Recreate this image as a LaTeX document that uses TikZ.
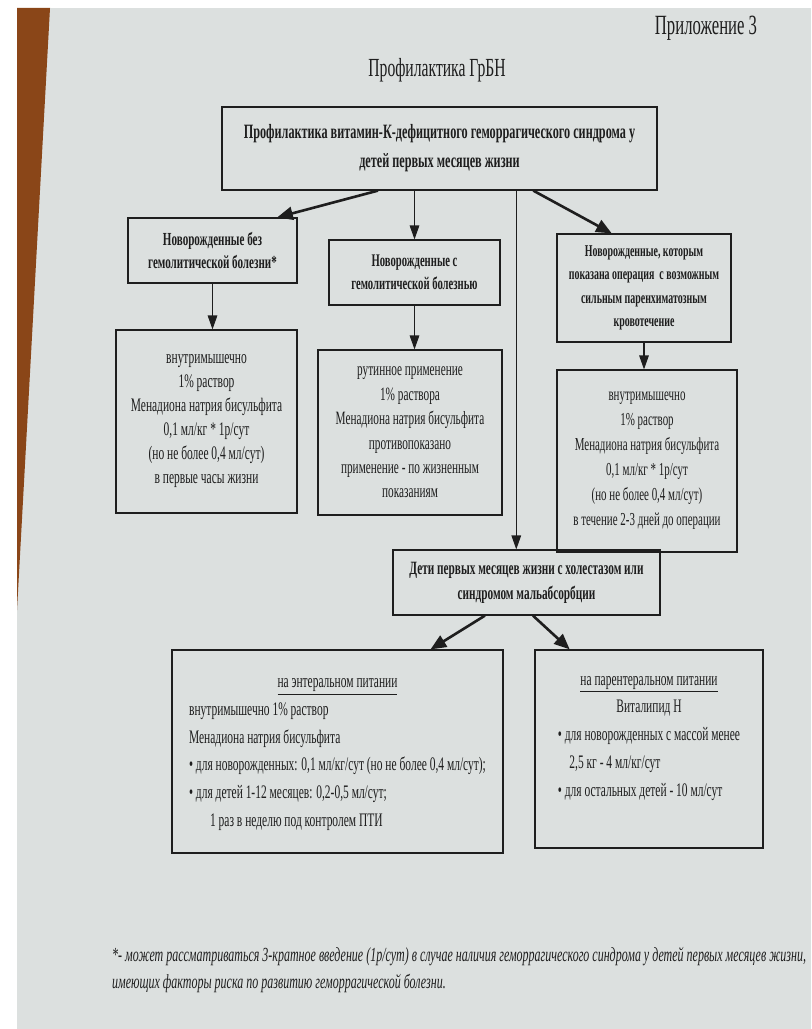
\documentclass[tikz,border=0pt]{standalone}
\usepackage{fontspec}
\setmainfont{Liberation Serif}[FakeStretch=0.6]
\usepackage{xcolor}
\usepackage{tikz}
\usetikzlibrary{arrows.meta, positioning, calc}

\definecolor{paper}{RGB}{220,224,223}
\definecolor{wood}{RGB}{138,70,24}
\definecolor{ink}{RGB}{30,30,30}
\newcommand{\px}{0.575pt}

\tikzset{
    schemebox/.style={draw=ink, text=ink, line width=0.7pt, align=center, inner sep=2pt},
    headbox/.style={schemebox, font=\fontsize{11}{13.5}\selectfont\bfseries},
    dosebox/.style={schemebox, font=\fontsize{11}{13.8}\selectfont},
    feedbox/.style={schemebox, font=\fontsize{11}{16}\selectfont},
    thinarrow/.style={draw=ink, line width=0.6pt, -{Triangle[length=8pt, width=5.5pt]}},
    thickarrow/.style={draw=ink, line width=1.5pt, -{Triangle[length=9pt, width=7.5pt]}}
}

\begin{document}
\begin{tikzpicture}[x=\px, y=-\px]
    \useasboundingbox (0, 0) rectangle (811, 1029);
    % фон листа
    \fill[paper] (17, 8) rectangle (811, 1029);
    \fill[wood] (17, 8) -- (50, 8) -- (17, 610) -- cycle;

    % заголовок
    \node[text=ink, font=\fontsize{16}{18}\selectfont] (app) at (706, 28) {Приложение 3};
    \node[text=ink, font=\fontsize{15}{18}\selectfont] (title) at (437, 70) {Профилактика ГрБН};

    % главный блок
    \node[headbox, font=\fontsize{11.7}{16.7}\selectfont\bfseries, minimum width=435*\px, minimum height=83*\px] (main) at (439.5, 148.5)
        {Профилактика витамин-К-дефицитного геморрагического синдрома у\\детей первых месяцев жизни};

    % группы новорожденных
    \node[headbox, font=\fontsize{10.6}{13.2}\selectfont\bfseries, minimum width=169*\px, minimum height=65*\px] (nohem) at (212.5, 250.5)
        {Новорожденные без\\гемолитической болезни*};
    \node[headbox, font=\fontsize{10.2}{13.5}\selectfont\bfseries, minimum width=171*\px, minimum height=65*\px] (hem) at (414.5, 272.5)
        {Новорожденные с\\гемолитической болезнью};
    \node[headbox, font=\fontsize{9.5}{13.5}\selectfont\bfseries, minimum width=174*\px, minimum height=108*\px] (oper) at (644, 288)
        {Новорожденные, которым\\показана операция~ с возможным\\сильным паренхиматозным\\кровотечение};

    % назначения
    \node[dosebox, minimum width=181*\px, minimum height=183*\px] (nohemdose) at (206.5, 421.5)
        {внутримышечно\\1\% раствор\\Менадиона натрия бисульфита\\0,1 мл/кг * 1р/сут\\(но не более 0,4 мл/сут)\\в первые часы жизни};
    \node[dosebox, font=\fontsize{10.8}{14}\selectfont, minimum width=184*\px, minimum height=165*\px] (hemdose) at (410, 432.5)
        {рутинное применение\\1\% раствора\\Менадиона натрия бисульфита\\противопоказано\\применение - по жизненным\\показаниям};
    \node[dosebox, font=\fontsize{10.5}{14.4}\selectfont, minimum width=180*\px, minimum height=182*\px] (operdose) at (647, 461)
        {внутримышечно\\1\% раствор\\Менадиона натрия бисульфита\\0,1 мл/кг * 1р/сут\\(но не более 0,4 мл/сут)\\в течение 2-3 дней до операции};

    % дети с холестазом
    \node[headbox, font=\fontsize{10.8}{14.4}\selectfont\bfseries, minimum width=267*\px, minimum height=65*\px] (chol) at (526.5, 582.5)
        {Дети первых месяцев жизни с холестазом или\\синдромом мальабсорбции};

    % питание
    \node[feedbox, minimum width=331*\px, minimum height=203*\px] (enteral) at (337.5, 751.5)
        {\begin{tabular}{@{}l@{}}
         \multicolumn{1}{@{}c@{}}{\underline{на энтеральном питании}}\\
         внутримышечно 1\% раствор\\
         Менадиона натрия бисульфита\\
         • для новорожденных: 0,1 мл/кг/сут (но не более 0,4 мл/сут);\\
         • для детей 1-12 месяцев: 0,2-0,5 мл/сут;\\
         \hspace*{1.1em}1 раз в неделю под контролем ПТИ
         \end{tabular}};
    \node[feedbox, minimum width=228*\px, minimum height=198*\px] (parenteral) at (649, 749)
        {\begin{tabular}{@{}l@{}}
         \multicolumn{1}{@{}c@{}}{\underline{на парентеральном питании}}\\
         \multicolumn{1}{@{}c@{}}{Виталипид Н}\\
         • для новорожденных с массой менее\\
         \hspace*{0.6em}2,5 кг - 4 мл/кг/сут\\
         • для остальных детей - 10 мл/сут\\
         ~
         \end{tabular}};

    % стрелки
    \draw[thickarrow] ($(main.south west)!0.359!(main.south east)$) -- ($(nohem.north west)!0.88!(nohem.north east)$);
    \draw[thinarrow] (main.south -| hem.north) -- (hem.north);
    \draw[thickarrow] ($(main.south west)!0.715!(main.south east)$) -- ($(oper.north west)!0.316!(oper.north east)$);
    \coordinate (split) at ($(main.south west)!0.676!(main.south east)$);
    \draw[thinarrow] (split) -- (split |- chol.north);
    \draw[thinarrow] (nohem.south) -- (nohem.south |- nohemdose.north);
    \draw[thinarrow] (hem.south) -- (hem.south |- hemdose.north);
    \draw[thinarrow] (oper.south) -- (oper.south |- operdose.north);
    \draw[thickarrow] ($(chol.south west)!0.345!(chol.south east)$) -- ($(enteral.north west)!0.78!(enteral.north east)$);
    \draw[thickarrow] ($(chol.south west)!0.524!(chol.south east)$) -- ($(parenteral.north west)!0.154!(parenteral.north east)$);

    % сноска
    \node[text=ink, anchor=west, align=left, font=\fontsize{11.5}{16}\selectfont\itshape] (note) at (106, 970)
        {*- может рассматриваться 3-кратное введение (1р/сут) в случае наличия геморрагического синдрома у детей первых месяцев жизни,\\имеющих факторы риска по развитию геморрагической болезни.};
\end{tikzpicture}
\end{document}
